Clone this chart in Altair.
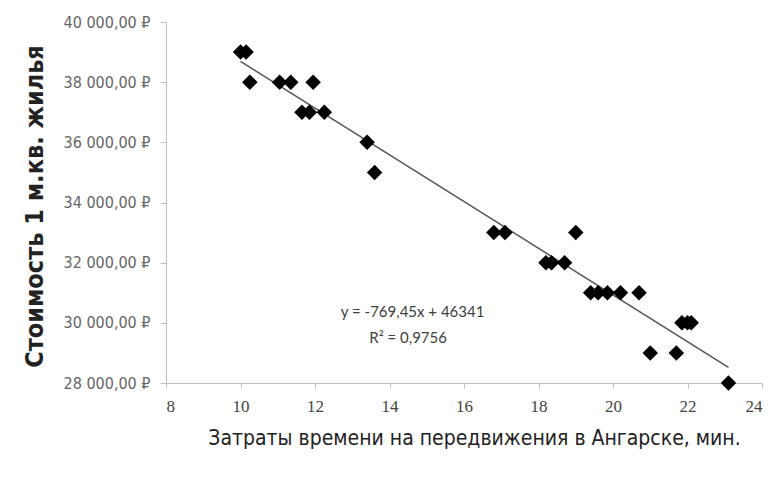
import altair as alt
import pandas as pd

# data
time_min = [10.0, 10.15, 10.25, 11.05, 11.35, 11.95, 11.65, 11.85, 12.25, 13.4, 13.6,
            16.8, 17.1, 19.0, 18.2, 18.35, 18.7, 19.4, 19.6, 19.85, 20.2, 20.7,
            21.0, 21.7, 21.85, 22.0, 22.1, 23.1]
price = [39000, 39000, 38000, 38000, 38000, 38000, 37000, 37000, 37000, 36000, 35000,
         33000, 33000, 33000, 32000, 32000, 32000, 31000, 31000, 31000, 31000, 31000,
         29000, 29000, 30000, 30000, 30000, 28000]

ann_text = ["y = -769,45x + 46341", "R² = 0,9756"]
ann_x = [14.62, 14.5]
ann_y = [30370, 29500]

x_ticks = [8, 10, 12, 14, 16, 18, 20, 22, 24]
y_ticks = [28000, 30000, 32000, 34000, 36000, 38000, 40000]

df = pd.DataFrame({"t": time_min, "p": price})
ann = pd.DataFrame({"text": ann_text, "x": ann_x, "y": ann_y})

xscale = alt.Scale(domain=[8, 24], nice=False, zero=False)
yscale = alt.Scale(domain=[28000, 40000], nice=False, zero=False)

narrow = "Liberation Sans Narrow, DejaVu Sans Condensed, Liberation Sans"

xaxis = alt.Axis(
    values=x_ticks, grid=False, domainColor="#bfbfbf", tickColor="#bfbfbf", tickSize=5,
    labelFont="Liberation Serif", labelFontSize=17, labelColor="#444444",
    labelPadding=10,
    title="Затраты времени на передвижения в Ангарске, мин.",
    titleFont=narrow, titleFontSize=21, titleFontWeight="normal",
    titleColor="#222222", titleY=44, titleX=308,
)
yaxis = alt.Axis(
    values=y_ticks, grid=False, domainColor="#bfbfbf", tickColor="#bfbfbf", tickSize=6,
    labelFont=narrow, labelFontSize=16, labelColor="#666666",
    labelPadding=10,
    labelExpr="replace(replace(format(datum.value, ',.2f'), ',', ' '), '.', ',') + ' ₽'",
    title="Стоимость  1 м.кв. жилья",
    titleFont=narrow, titleFontSize=25, titleFontWeight="bold",
    titleColor="#222222", titleX=-119, titleY=184, titleAngle=-90,
)

points = alt.Chart(df).mark_point(shape="diamond", filled=True, color="black", size=240, opacity=1).encode(
    x=alt.X("t:Q", scale=xscale, axis=xaxis),
    y=alt.Y("p:Q", scale=yscale, axis=yaxis),
)

trend = alt.Chart(df).transform_regression("t", "p").mark_line(color="#555555", strokeWidth=1.5).encode(
    x=alt.X("t:Q", scale=xscale),
    y=alt.Y("p:Q", scale=yscale),
)

labels = alt.Chart(ann).mark_text(font="Lato", fontSize=15, color="#404040", align="center").encode(
    x=alt.X("x:Q", scale=xscale),
    y=alt.Y("y:Q", scale=yscale),
    text="text:N",
)

chart = alt.layer(trend, points, labels).properties(
    width=596, height=361,
    autosize=alt.AutoSizeParams(type="none"),
    padding={"left": 158, "top": 14, "right": 2, "bottom": 80},
).configure_view(stroke=None)

chart.save("out.html", embed_options={"renderer": "svg", "actions": False})
